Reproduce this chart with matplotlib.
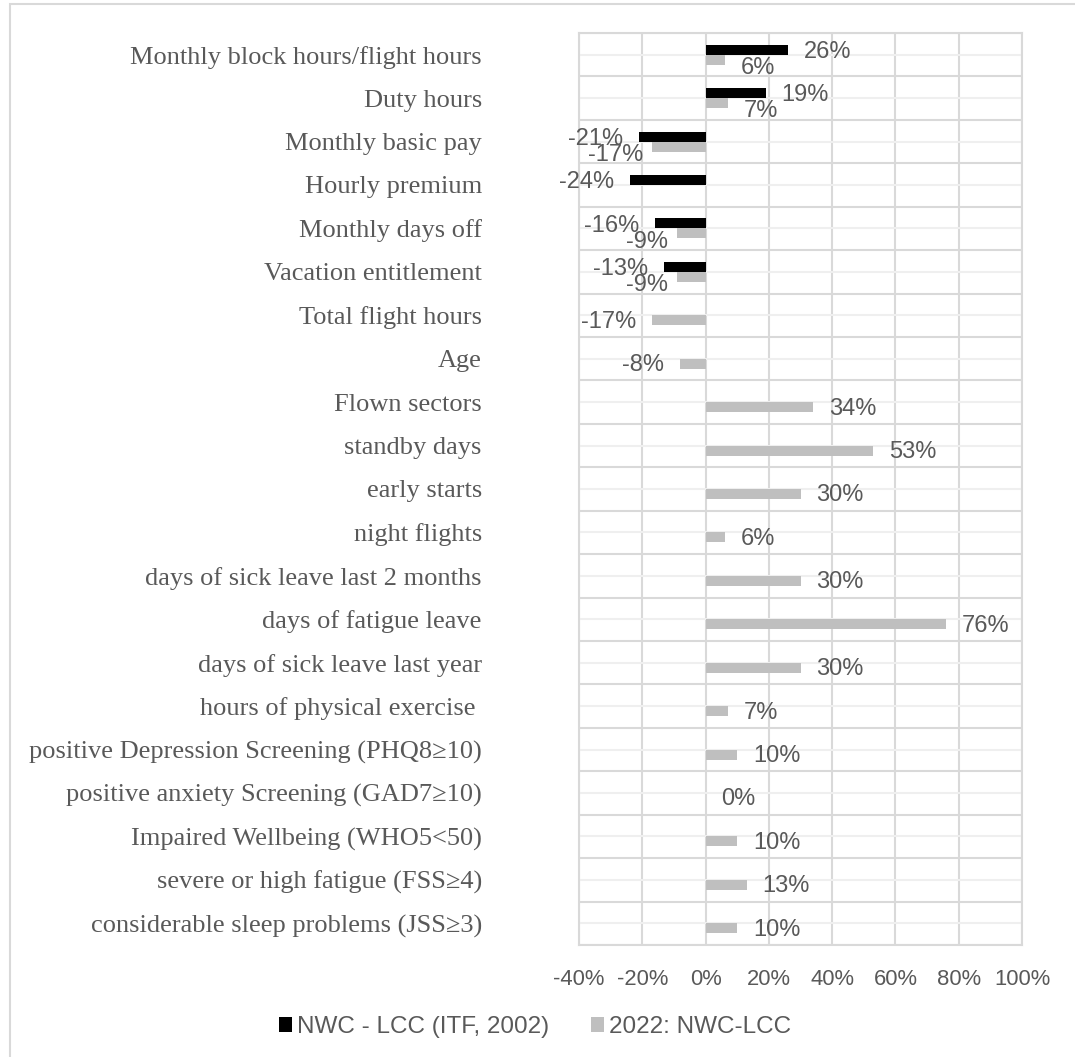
import numpy as np
import matplotlib
matplotlib.use("Agg")
import matplotlib.pyplot as plt
from matplotlib.patches import Patch, Rectangle

categories = [
    "Monthly block hours/flight hours",
    "Duty hours",
    "Monthly basic pay",
    "Hourly premium",
    "Monthly days off",
    "Vacation entitlement",
    "Total flight hours",
    "Age",
    "Flown sectors",
    "standby days",
    "early starts",
    "night flights",
    "days of sick leave last 2 months",
    "days of fatigue leave",
    "days of sick leave last year",
    "hours of physical exercise ",
    "positive Depression Screening (PHQ8\u226510)",
    "positive anxiety Screening (GAD7\u226510)",
    "Impaired Wellbeing (WHO5<50)",
    "severe or high fatigue (FSS\u22654)",
    "considerable sleep problems (JSS\u22653)",
]
nan = np.nan
itf_2002 = [0.26, 0.19, -0.21, -0.24, -0.16, -0.13, nan, nan, nan, nan, nan,
            nan, nan, nan, nan, nan, nan, nan, nan, nan, nan]
y2022 = [0.06, 0.07, -0.17, nan, -0.09, -0.09, -0.17, -0.08, 0.34, 0.53, 0.30,
         0.06, 0.30, 0.76, 0.30, 0.07, 0.10, 0.00, 0.10, 0.13, 0.10]
series_names = ["NWC - LCC (ITF, 2002)", "2022: NWC-LCC"]
xticks = [-0.4, -0.2, 0.0, 0.2, 0.4, 0.6, 0.8, 1.0]
xticklabels = ["-40%", "-20%", "0%", "20%", "40%", "60%", "80%", "100%"]

TXT = "#595959"
GRID = "#d9d9d9"
GRID_LIGHT = "#efefef"
C_BLACK = "#000000"
C_GRAY = "#bfbfbf"

W, H = 1075, 1057
fig = plt.figure(figsize=(W / 100, H / 100), dpi=100)
fig.patch.set_facecolor("white")

# chart-area border (partial, as in the reference)
fig.add_artist(Rectangle((10 / W, -0.1), 1.2, 1 - 4 / H + 0.1,
                         transform=fig.transFigure, fill=False,
                         edgecolor=GRID, lw=1.5))

left, right, top, bottom = 579, 1022, 33, 945
ax = fig.add_axes([left / W, 1 - bottom / H, (right - left) / W, (bottom - top) / H])

n = len(categories)
ypos = np.arange(n)
bh = 0.23
a = np.array(itf_2002, dtype=float)
b = np.array(y2022, dtype=float)

ax.barh(ypos - bh / 2, np.nan_to_num(a), height=bh, color=C_BLACK, zorder=3,
        label=series_names[0])
ax.barh(ypos + bh / 2, np.nan_to_num(b), height=bh, color=C_GRAY, zorder=3,
        label=series_names[1])

ax.set_xlim(-0.4, 1.0)
ax.set_ylim(n - 0.5, -0.5)

ax.set_xticks(xticks)
ax.set_xticklabels(xticklabels)
ax.set_yticks(ypos)
ax.set_yticks(np.arange(n + 1) - 0.5, minor=True)
ax.set_yticklabels(categories, fontsize=19, color=TXT,
                   family=["Liberation Serif", "DejaVu Serif"])
ax.tick_params(axis="y", which="both", length=0, pad=70)
ax.tick_params(axis="x", length=0, pad=17, labelsize=15.8, labelcolor=TXT)
for lab in ax.get_xticklabels():
    lab.set_family(["Liberation Sans", "DejaVu Sans"])

ax.grid(axis="x", which="major", color=GRID, lw=1.5, zorder=0)
ax.grid(axis="y", which="minor", color=GRID, lw=1.5, zorder=0)
ax.grid(axis="y", which="major", color=GRID_LIGHT, lw=1.5, zorder=0)
for s in ax.spines.values():
    s.set_color(GRID)
    s.set_linewidth(1.5)
ax.set_axisbelow(True)

lab_kw = dict(fontsize=17, color=TXT, family=["Liberation Sans", "DejaVu Sans"],
              textcoords="offset points", va="center", zorder=5)
pad = 11.5
for i in range(n):
    pair = not np.isnan(a[i]) and not np.isnan(b[i])
    if not np.isnan(a[i]):
        v = a[i]
        ax.annotate(f"{v * 100:.0f}%", (v, i - bh / 2),
                    xytext=(pad if v >= 0 else -pad, -1.5),
                    ha="left" if v >= 0 else "right", **lab_kw)
    if not np.isnan(b[i]):
        v = b[i]
        dy = -6.0 if pair else -1.0
        dx = pad if v >= 0 else -pad
        # Excel nudged the overlapping "-17%" label of the basic-pay pair
        if pair and v < 0 and a[i] - v < -0.03:
            dx = -pad + 5
        ax.annotate(f"{v * 100:.0f}%", (v, i + bh / 2),
                    xytext=(dx, dy),
                    ha="left" if v >= 0 else "right", **lab_kw)

handles = [Patch(facecolor=C_BLACK), Patch(facecolor=C_GRAY)]
leg = fig.legend(handles, series_names, loc="center",
                 bbox_to_anchor=(535 / W, 1 - 1027 / H), ncol=2, frameon=False,
                 handlelength=0.55, handleheight=0.55, handletextpad=0.2,
                 columnspacing=1.7,
                 prop={"family": ["Liberation Sans", "DejaVu Sans"], "size": 17.5})
for t in leg.get_texts():
    t.set_color(TXT)

fig.savefig("out.png", dpi=100, facecolor="white")
